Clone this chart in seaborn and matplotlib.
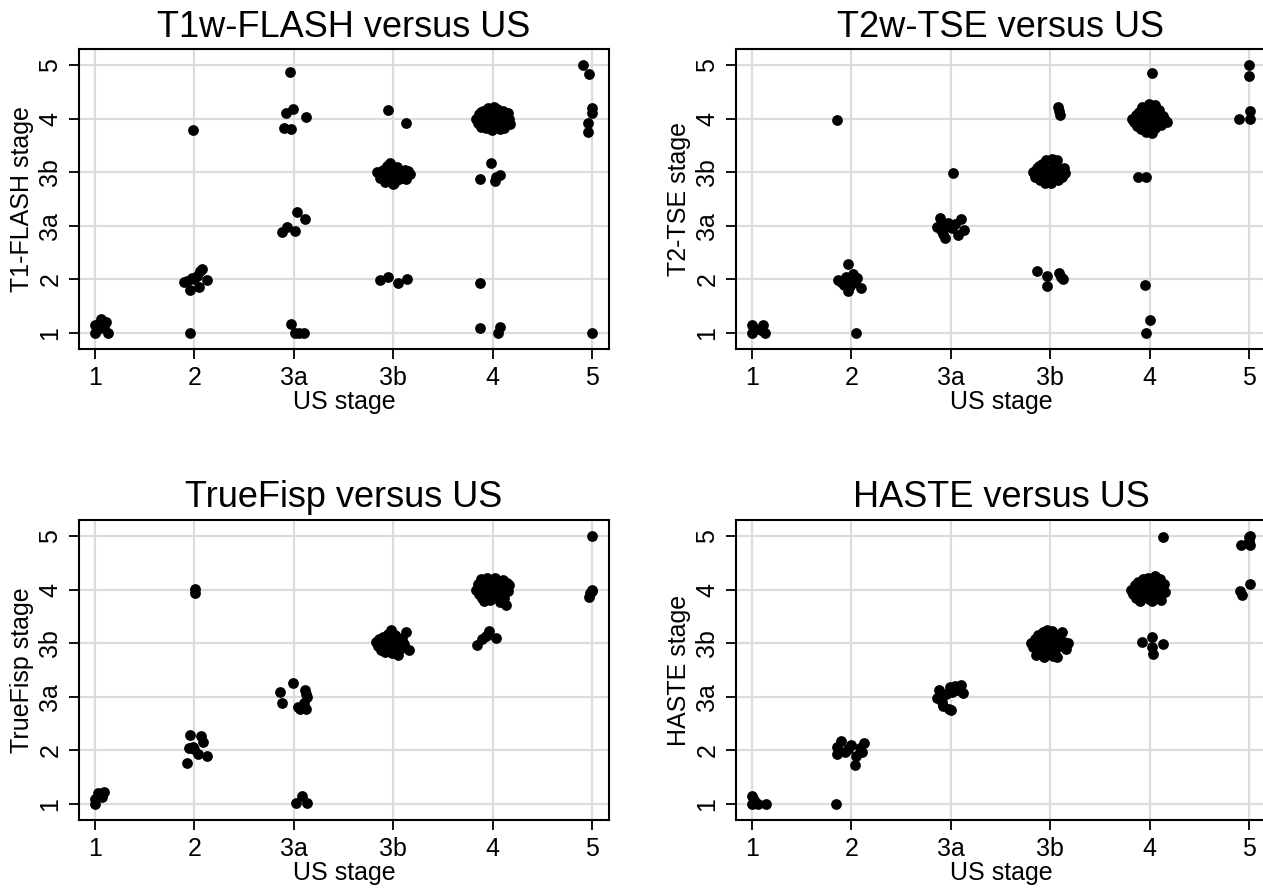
import matplotlib
matplotlib.use("Agg")
import matplotlib.pyplot as plt
import seaborn as sns
import pandas as pd

# stage categories; 3a and 3b sit at positions 3 and 4
stage_labels = ["1", "2", "3a", "3b", "4", "5"]
stage_pos = [1, 2, 3, 4, 5, 6]

# jittered points (x = US stage, y = MRI stage)
flash_us = [1.00, 1.13, 1.06, 1.00, 1.11, 1.03, 1.09,
            1.99, 1.96, 1.89, 1.93, 1.96, 2.00, 2.03, 2.06, 2.08, 2.13, 2.05, 1.98,
            2.96, 2.92, 2.99, 3.12, 2.90, 2.97, 2.88, 2.93, 3.01, 3.03, 3.11, 2.97, 3.01, 3.05, 3.10,
            3.95, 4.13,
            3.84, 3.87, 3.90, 3.92, 3.94, 3.96, 3.97, 3.99, 4.00, 4.01, 4.03, 4.04, 4.06, 4.08, 4.10,
            4.12, 4.13, 4.15, 4.17, 3.92, 4.00, 3.97,
            3.87, 3.95, 4.05, 4.14,
            4.83, 4.85, 4.86, 4.88, 4.89, 4.90, 4.92, 4.93, 4.94, 4.95, 4.96, 4.97, 4.98, 4.99, 5.00,
            5.00, 5.02, 5.03, 5.04, 5.05, 5.06, 5.08, 5.09, 5.10, 5.11, 5.12, 5.13, 5.15, 5.16, 5.17,
            4.91, 5.01, 4.97, 5.07, 4.88,
            4.98, 4.87, 5.02, 5.07, 5.03, 4.87, 4.87, 5.05, 5.07,
            5.91, 5.97, 6.00, 6.00, 5.96, 5.96, 6.00]
flash_mri = [1.00, 1.00, 1.26, 1.15, 1.20, 1.08, 1.10,
             4.78, 1.00, 1.95, 1.97, 1.80, 2.00, 2.06, 2.15, 2.20, 1.99, 1.85, 2.03,
             5.88, 5.10, 5.18, 5.04, 4.83, 4.80, 2.88, 2.97, 2.91, 3.25, 3.13, 1.17, 1.00, 1.00, 1.00,
             5.16, 4.91,
             4.00, 3.90, 4.05, 3.93, 4.12, 3.85, 4.18, 3.95, 4.06, 3.80, 3.92, 4.10, 3.88, 4.00, 3.95,
             4.05, 3.88, 4.02, 3.96, 3.82, 3.78, 4.02,
             1.99, 2.04, 1.93, 2.01,
             5.00, 4.92, 5.08, 4.85, 5.02, 5.15, 4.95, 4.82, 5.10, 5.20, 5.00, 4.88, 5.05, 4.78, 4.95,
             5.12, 5.02, 4.85, 5.18, 4.95, 5.08, 4.90, 5.00, 5.15, 4.82, 5.05, 4.95, 5.10, 5.00, 4.90,
             4.90, 5.22, 5.15, 4.80, 5.12,
             4.17, 3.88, 3.83, 3.95, 3.92, 1.94, 1.09, 1.00, 1.11,
             6.00, 5.83, 5.19, 5.10, 4.91, 4.75, 1.00]

tse_us = [1.00, 1.13, 1.00, 1.11, 1.03, 1.09,
          1.86, 2.05, 1.97, 1.87, 1.93, 1.97, 2.02, 2.10, 2.04, 1.90, 1.99, 2.06, 1.95,
          3.02, 2.89, 3.10, 3.13, 3.07, 2.94, 2.90, 2.97, 2.86, 2.92, 3.01, 2.95, 3.04, 2.91,
          4.08, 4.10, 4.09,
          3.83, 3.85, 3.87, 3.90, 3.92, 3.94, 3.96, 3.98, 4.00, 4.01, 4.03, 4.05, 4.06, 4.08, 4.10,
          4.12, 4.14, 4.15, 3.95, 4.02, 3.89, 4.07,
          3.87, 3.97, 3.97, 4.09, 4.13, 4.11,
          5.02,
          4.82, 4.84, 4.86, 4.87, 4.89, 4.90, 4.91, 4.93, 4.94, 4.95, 4.96, 4.97, 4.98, 4.99, 5.00,
          5.01, 5.02, 5.03, 5.04, 5.05, 5.06, 5.07, 5.08, 5.09, 5.10, 5.11, 5.12, 5.14, 5.16, 5.18,
          4.92, 5.00, 4.97, 5.06, 4.88,
          4.88, 4.96, 4.95, 5.00, 4.96,
          6.00, 6.00, 6.01, 5.90, 6.01]
tse_mri = [1.00, 1.00, 1.14, 1.14, 1.08, 1.05,
           4.98, 1.00, 2.29, 1.98, 1.90, 1.78, 2.10, 1.84, 1.96, 1.96, 1.87, 2.03, 2.05,
           3.98, 3.14, 3.13, 2.93, 2.83, 2.77, 2.93, 3.05, 2.98, 2.85, 2.95, 2.99, 3.04, 3.05,
           5.22, 5.07, 5.15,
           4.00, 3.92, 4.08, 3.85, 4.15, 3.98, 4.22, 3.90, 4.05, 3.80, 4.18, 3.95, 4.10, 3.85, 4.02,
           3.92, 4.08, 3.98, 3.80, 4.25, 4.12, 4.22,
           2.15, 2.06, 1.87, 2.12, 2.00, 2.04,
           5.86,
           5.00, 4.93, 5.07, 4.86, 5.13, 4.98, 4.80, 5.04, 5.18, 4.90, 4.76, 5.10, 4.97, 5.28, 4.85,
           5.03, 4.73, 5.20, 4.94, 5.12, 4.82, 5.00, 5.08, 4.90, 5.16, 4.96, 4.88, 5.05, 4.97, 4.94,
           5.22, 5.00, 4.80, 5.25, 5.02,
           3.92, 3.92, 1.90, 1.24, 1.00,
           6.00, 5.80, 5.15, 4.99, 5.00]

fisp_us = [1.00, 1.00, 1.03, 1.09, 1.07, 1.05,
           2.01, 2.01, 1.93, 1.96, 2.07, 2.09, 1.99, 2.04, 2.13, 2.00, 1.95,
           2.86, 2.88, 2.99, 3.11, 3.13, 3.10, 3.06, 3.12, 3.04, 3.12,
           3.02, 3.08, 3.13,
           3.83, 3.85, 3.86, 3.88, 3.89, 3.90, 3.92, 3.93, 3.94, 3.95, 3.96, 3.97, 3.98, 3.99, 4.00,
           4.01, 4.02, 4.03, 4.04, 4.05, 4.07, 4.09, 4.11, 4.13, 4.16,
           4.83, 4.85, 4.86, 4.88, 4.89, 4.90, 4.91, 4.92, 4.93, 4.94, 4.95, 4.96, 4.97, 4.98, 5.00,
           5.02, 5.04, 5.05, 5.06, 5.07, 5.08, 5.09, 5.10, 5.11, 5.12, 5.13, 5.14, 5.15, 5.16, 4.99,
           4.84, 4.89, 4.96, 5.03, 4.93,
           6.00, 6.00, 5.98, 5.97, 6.00]
fisp_mri = [1.00, 1.10, 1.20, 1.23, 1.12, 1.16,
            5.02, 4.94, 1.77, 2.29, 2.27, 2.16, 2.07, 1.94, 1.89, 2.02, 2.05,
            3.09, 2.89, 3.25, 3.13, 3.00, 2.89, 2.78, 2.77, 2.80, 3.06,
            1.01, 1.14, 1.01,
            4.02, 3.94, 4.08, 3.88, 4.00, 4.12, 3.84, 3.96, 4.05, 4.18, 3.90, 4.00, 4.24, 3.82, 4.08,
            3.95, 4.15, 3.86, 4.02, 3.78, 3.90, 4.10, 3.98, 4.20, 3.88,
            5.00, 5.10, 4.92, 5.20, 4.85, 5.05, 4.78, 5.15, 4.95, 5.22, 4.88, 5.08, 4.80, 5.18, 4.90,
            5.22, 5.00, 4.88, 5.15, 4.76, 5.08, 4.95, 5.18, 4.85, 5.05, 4.72, 5.12, 4.98, 5.08, 5.02,
            3.96, 4.07, 4.23, 4.10, 4.14,
            6.00, 5.00, 4.93, 4.87, 4.97]

haste_us = [1.00, 1.00, 1.06, 1.14, 1.02,
            1.85, 1.86, 1.90, 1.86, 1.94, 2.00, 2.05, 2.04, 2.11, 2.13, 2.09, 1.97,
            2.86, 2.88, 2.92, 2.95, 2.98, 3.01, 3.04, 3.06, 3.10, 3.12, 2.99, 2.91, 3.00,
            3.81, 3.83, 3.85, 3.86, 3.88, 3.89, 3.90, 3.92, 3.93, 3.94, 3.95, 3.96, 3.97, 3.98, 3.99,
            4.00, 4.01, 4.02, 4.03, 4.04, 4.05, 4.06, 4.07, 4.08, 4.10, 4.12, 4.14, 4.16, 4.18, 3.91,
            5.14,
            4.81, 4.83, 4.85, 4.86, 4.88, 4.89, 4.90, 4.92, 4.93, 4.94, 4.95, 4.97, 4.98, 4.99, 5.00,
            5.01, 5.03, 5.04, 5.05, 5.06, 5.07, 5.08, 5.09, 5.10, 5.11, 5.12, 5.13, 5.14, 5.15, 5.16,
            4.92, 5.02, 5.03, 5.04, 5.14,
            5.92, 6.00, 6.01, 6.01, 6.00, 5.91, 5.93, 6.01]
haste_mri = [1.00, 1.15, 1.00, 1.00, 1.07,
             1.00, 2.06, 2.18, 1.94, 1.97, 2.10, 1.89, 1.73, 1.96, 2.13, 2.04, 2.02,
             2.97, 3.12, 2.83, 3.05, 2.78, 3.08, 3.20, 3.13, 3.22, 3.07, 3.18, 2.90, 2.75,
             4.00, 3.92, 4.08, 3.78, 4.15, 3.95, 4.02, 3.85, 4.20, 3.74, 4.05, 3.90, 4.25, 3.98, 3.80,
             4.12, 3.92, 4.22, 3.76, 4.05, 3.88, 4.00, 3.75, 4.15, 3.95, 4.20, 4.02, 3.90, 4.00, 4.10,
             5.98,
             5.00, 4.92, 5.08, 4.85, 5.15, 5.00, 4.78, 5.05, 5.20, 4.90, 5.10, 4.95, 5.22, 4.82, 5.02,
             5.15, 4.78, 5.10, 4.92, 5.25, 5.00, 4.85, 5.12, 4.95, 5.20, 4.80, 5.05, 4.98, 5.10, 4.95,
             4.02, 4.12, 3.93, 3.79, 3.98,
             5.84, 5.98, 6.01, 5.83, 5.90, 4.98, 4.90, 5.10]

panels = [
    ("T1w-FLASH versus US", "T1-FLASH stage", flash_us, flash_mri),
    ("T2w-TSE versus US", "T2-TSE stage", tse_us, tse_mri),
    ("TrueFisp versus US", "TrueFisp stage", fisp_us, fisp_mri),
    ("HASTE versus US", "HASTE stage", haste_us, haste_mri),
]

sns.set_style("white")
plt.rcParams["font.family"] = ["Liberation Sans", "DejaVu Sans"]
plt.rcParams["text.color"] = "black"
plt.rcParams["axes.labelcolor"] = "black"
plt.rcParams["xtick.color"] = "black"
plt.rcParams["ytick.color"] = "black"

fig = plt.figure(figsize=(12.63, 8.91), dpi=100)
# right-hand panels run slightly past the figure edge, as in the original export
rects = [[0.0626, 0.6083, 0.4196, 0.3367],
         [0.5827, 0.6083, 0.4196, 0.3367],
         [0.0626, 0.0797, 0.4196, 0.3367],
         [0.5827, 0.0797, 0.4196, 0.3367]]

for (title, ylabel, xs, ys), rect in zip(panels, rects):
    ax = fig.add_axes(rect)
    df = pd.DataFrame({"us": xs, "mri": ys})
    ax.grid(True, color="#dcdcdc", linewidth=1.6)
    ax.set_axisbelow(True)
    sns.scatterplot(data=df, x="us", y="mri", ax=ax, color="black", s=60,
                    linewidth=0, zorder=3, legend=False)
    ax.set_xlim(0.839, 6.171)
    ax.set_ylim(0.70, 6.30)
    ax.set_xticks(stage_pos)
    ax.set_xticklabels(stage_labels)
    ax.set_yticks(stage_pos)
    ax.set_yticklabels(stage_labels, rotation=90, va="center")
    ax.tick_params(direction="out", length=7, width=1.3, color="black", pad=5,
                   labelsize=18, labelcolor="black", bottom=True, left=True)
    for sp in ax.spines.values():
        sp.set_color("black")
        sp.set_linewidth(1.5)
    ax.set_title(title, fontsize=26, pad=9, color="black")
    ax.set_xlabel("US stage", fontsize=18, labelpad=0)
    ax.set_ylabel(ylabel, fontsize=18, labelpad=3)

fig.savefig("out.png", dpi=100)
